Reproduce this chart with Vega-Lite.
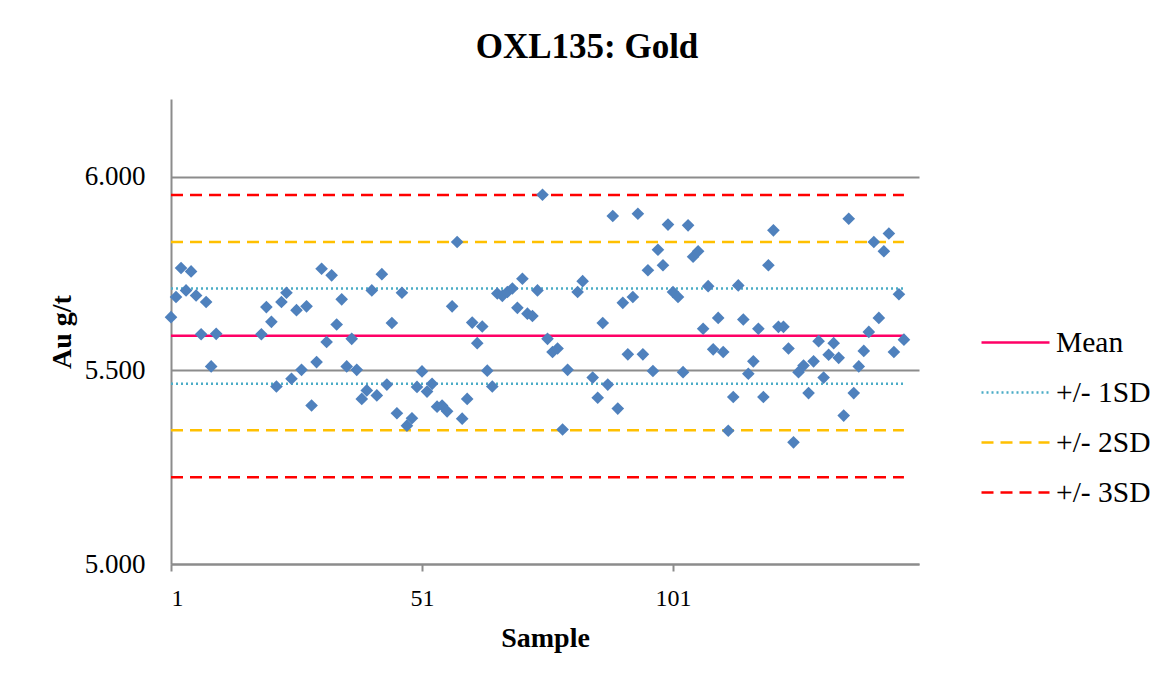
{
  "$schema": "https://vega.github.io/schema/vega-lite/v6.json",
  "width": 748,
  "height": 465,
  "padding": {"left": 48, "top": 30, "right": 5, "bottom": 5},
  "background": "white",
  "config": {
    "view": {"stroke": null},
    "font": "Liberation Serif"
  },
  "title": {
    "text": "OXL135: Gold",
    "font": "Liberation Serif",
    "fontSize": 35,
    "fontWeight": "bold",
    "color": "black",
    "anchor": "middle",
    "frame": "group",
    "dx": 42,
    "offset": 34
  },
  "datasets": {
    "samples": [
      {"sample": 1, "au": 5.637}, {"sample": 2, "au": 5.689}, {"sample": 3, "au": 5.764}, {"sample": 4, "au": 5.706},
      {"sample": 5, "au": 5.755}, {"sample": 6, "au": 5.693}, {"sample": 7, "au": 5.593}, {"sample": 8, "au": 5.676},
      {"sample": 9, "au": 5.510}, {"sample": 10, "au": 5.594}, {"sample": 19, "au": 5.593}, {"sample": 20, "au": 5.663},
      {"sample": 21, "au": 5.625}, {"sample": 22, "au": 5.458}, {"sample": 23, "au": 5.676}, {"sample": 24, "au": 5.700},
      {"sample": 25, "au": 5.478}, {"sample": 26, "au": 5.655}, {"sample": 27, "au": 5.501}, {"sample": 28, "au": 5.665},
      {"sample": 29, "au": 5.409}, {"sample": 30, "au": 5.521}, {"sample": 31, "au": 5.762}, {"sample": 32, "au": 5.573},
      {"sample": 33, "au": 5.745}, {"sample": 34, "au": 5.618}, {"sample": 35, "au": 5.683}, {"sample": 36, "au": 5.510},
      {"sample": 37, "au": 5.581}, {"sample": 38, "au": 5.501}, {"sample": 39, "au": 5.426}, {"sample": 40, "au": 5.448},
      {"sample": 41, "au": 5.706}, {"sample": 42, "au": 5.435}, {"sample": 43, "au": 5.748}, {"sample": 44, "au": 5.463},
      {"sample": 45, "au": 5.622}, {"sample": 46, "au": 5.389}, {"sample": 47, "au": 5.700}, {"sample": 48, "au": 5.357},
      {"sample": 49, "au": 5.376}, {"sample": 50, "au": 5.457}, {"sample": 51, "au": 5.497}, {"sample": 52, "au": 5.445},
      {"sample": 53, "au": 5.465}, {"sample": 54, "au": 5.406}, {"sample": 55, "au": 5.409}, {"sample": 56, "au": 5.394},
      {"sample": 57, "au": 5.665}, {"sample": 58, "au": 5.831}, {"sample": 59, "au": 5.375}, {"sample": 60, "au": 5.426},
      {"sample": 61, "au": 5.623}, {"sample": 62, "au": 5.570}, {"sample": 63, "au": 5.613}, {"sample": 64, "au": 5.499},
      {"sample": 65, "au": 5.458}, {"sample": 66, "au": 5.698}, {"sample": 67, "au": 5.692}, {"sample": 68, "au": 5.702},
      {"sample": 69, "au": 5.711}, {"sample": 70, "au": 5.661}, {"sample": 71, "au": 5.736}, {"sample": 72, "au": 5.646},
      {"sample": 73, "au": 5.640}, {"sample": 74, "au": 5.706}, {"sample": 75, "au": 5.953}, {"sample": 76, "au": 5.581},
      {"sample": 77, "au": 5.547}, {"sample": 78, "au": 5.556}, {"sample": 79, "au": 5.347}, {"sample": 80, "au": 5.501},
      {"sample": 82, "au": 5.702}, {"sample": 83, "au": 5.730}, {"sample": 85, "au": 5.481}, {"sample": 86, "au": 5.429},
      {"sample": 87, "au": 5.622}, {"sample": 88, "au": 5.463}, {"sample": 89, "au": 5.898}, {"sample": 90, "au": 5.401},
      {"sample": 91, "au": 5.674}, {"sample": 92, "au": 5.541}, {"sample": 93, "au": 5.689}, {"sample": 94, "au": 5.904},
      {"sample": 95, "au": 5.541}, {"sample": 96, "au": 5.758}, {"sample": 97, "au": 5.498}, {"sample": 98, "au": 5.811},
      {"sample": 99, "au": 5.771}, {"sample": 100, "au": 5.876}, {"sample": 101, "au": 5.702}, {"sample": 102, "au": 5.689},
      {"sample": 103, "au": 5.495}, {"sample": 104, "au": 5.874}, {"sample": 105, "au": 5.793}, {"sample": 106, "au": 5.807},
      {"sample": 107, "au": 5.607}, {"sample": 108, "au": 5.717}, {"sample": 109, "au": 5.554}, {"sample": 110, "au": 5.635},
      {"sample": 111, "au": 5.547}, {"sample": 112, "au": 5.344}, {"sample": 113, "au": 5.431}, {"sample": 114, "au": 5.719},
      {"sample": 115, "au": 5.631}, {"sample": 116, "au": 5.491}, {"sample": 117, "au": 5.523}, {"sample": 118, "au": 5.607},
      {"sample": 119, "au": 5.431}, {"sample": 120, "au": 5.771}, {"sample": 121, "au": 5.861}, {"sample": 122, "au": 5.612},
      {"sample": 123, "au": 5.612}, {"sample": 124, "au": 5.556}, {"sample": 125, "au": 5.314}, {"sample": 126, "au": 5.495},
      {"sample": 127, "au": 5.512}, {"sample": 128, "au": 5.441}, {"sample": 129, "au": 5.523}, {"sample": 130, "au": 5.575},
      {"sample": 131, "au": 5.481}, {"sample": 132, "au": 5.540}, {"sample": 133, "au": 5.570}, {"sample": 134, "au": 5.532},
      {"sample": 135, "au": 5.383}, {"sample": 136, "au": 5.891}, {"sample": 137, "au": 5.441}, {"sample": 138, "au": 5.510},
      {"sample": 139, "au": 5.550}, {"sample": 140, "au": 5.599}, {"sample": 141, "au": 5.831}, {"sample": 142, "au": 5.635},
      {"sample": 143, "au": 5.807}, {"sample": 144, "au": 5.853}, {"sample": 145, "au": 5.547}, {"sample": 146, "au": 5.696},
      {"sample": 147, "au": 5.579}
    ],
    "limits": [
      {"series": "Mean", "value": 5.589, "start": 1, "end": 147},
      {"series": "+/- 1SD", "value": 5.711, "start": 1, "end": 147},
      {"series": "+/- 1SD", "value": 5.465, "start": 1, "end": 147},
      {"series": "+/- 2SD", "value": 5.831, "start": 1, "end": 147},
      {"series": "+/- 2SD", "value": 5.345, "start": 1, "end": 147},
      {"series": "+/- 3SD", "value": 5.952, "start": 1, "end": 147},
      {"series": "+/- 3SD", "value": 5.224, "start": 1, "end": 147}
    ]
  },
  "layer": [
    {
      "data": {"name": "limits"},
      "mark": {"type": "rule", "strokeWidth": 2.5},
      "encoding": {
        "x": {
          "field": "start",
          "type": "quantitative",
          "scale": {"domain": [1, 150], "nice": false, "zero": false},
          "axis": {
            "title": "Sample",
            "values": [1, 51, 101],
            "grid": false,
            "ticks": true,
            "tickSize": 7,
            "tickWidth": 2,
            "tickColor": "#8c8c8c",
            "domainColor": "#8c8c8c",
            "domainWidth": 2,
            "labelFont": "Liberation Serif",
            "labelFontSize": 24,
            "labelColor": "black",
            "labelPadding": 15,
            "titleFont": "Liberation Serif",
            "titleFontSize": 28,
            "titleFontWeight": "bold",
            "titleColor": "black",
            "titlePadding": 14
          }
        },
        "x2": {"field": "end"},
        "y": {
          "field": "value",
          "type": "quantitative",
          "scale": {"domain": [5, 6.2], "nice": false, "zero": false},
          "axis": {
            "title": "Au g/t",
            "values": [5, 5.5, 6],
            "format": ".3f",
            "grid": true,
            "gridColor": "#8c8c8c",
            "gridWidth": 2,
            "ticks": false,
            "domainColor": "#8c8c8c",
            "domainWidth": 2,
            "labelFont": "Liberation Serif",
            "labelFontSize": 27,
            "labelColor": "black",
            "labelPadding": 26,
            "titleFont": "Liberation Serif",
            "titleFontSize": 28,
            "titleFontWeight": "bold",
            "titleColor": "black",
            "titlePadding": 8
          }
        },
        "color": {
          "field": "series",
          "type": "nominal",
          "scale": {
            "domain": ["Mean", "+/- 1SD", "+/- 2SD", "+/- 3SD"],
            "range": ["#FF0066", "#4BACC6", "#FFC000", "#FF0000"]
          },
          "legend": {
            "title": null,
            "orient": "none",
            "legendX": 809,
            "legendY": 208,
            "symbolType": "stroke",
            "symbolSize": 4624,
            "symbolStrokeWidth": 2.5,
            "labelFont": "Liberation Serif",
            "labelFontSize": 29.5,
            "labelColor": "black",
            "labelOffset": 5,
            "rowPadding": -26
          }
        },
        "strokeDash": {
          "field": "series",
          "type": "nominal",
          "scale": {
            "domain": ["Mean", "+/- 1SD", "+/- 2SD", "+/- 3SD"],
            "range": [[1, 0], [2, 3], [12, 7], [12, 7]]
          },
          "legend": {
            "title": null,
            "orient": "none",
            "legendX": 809,
            "legendY": 208,
            "symbolType": "stroke",
            "symbolSize": 4624,
            "symbolStrokeWidth": 2.5,
            "labelFont": "Liberation Serif",
            "labelFontSize": 29.5,
            "labelColor": "black",
            "labelOffset": 5,
            "rowPadding": -26
          }
        }
      }
    },
    {
      "data": {"name": "samples"},
      "mark": {"type": "point", "shape": "diamond", "filled": true, "size": 160, "color": "#4F81BD", "opacity": 1},
      "encoding": {
        "x": {"field": "sample", "type": "quantitative"},
        "y": {"field": "au", "type": "quantitative"}
      }
    }
  ]
}
